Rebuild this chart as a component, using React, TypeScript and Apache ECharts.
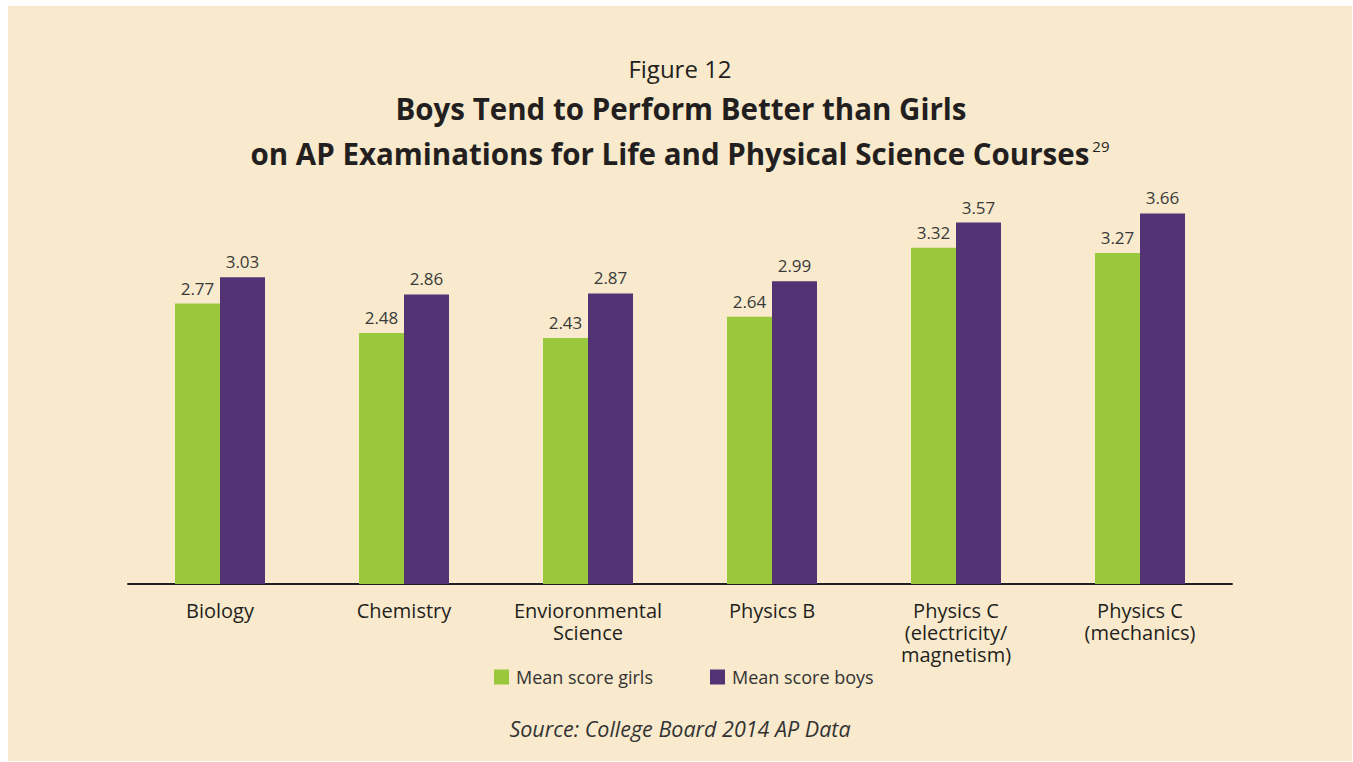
import React, { useEffect, useRef } from "react";
import * as echarts from "echarts";

const categories = [
  "Biology",
  "Chemistry",
  "Envioronmental\nScience",
  "Physics B",
  "Physics C\n(electricity/\nmagnetism)",
  "Physics C\n(mechanics)",
];
const girls = [2.77, 2.48, 2.43, 2.64, 3.32, 3.27];
const boys = [3.03, 2.86, 2.87, 2.99, 3.57, 3.66];
const seriesNames = ["Mean score girls", "Mean score boys"];

const FONT = "'Open Sans', 'Noto Sans', sans-serif";
const GREEN = "#99c83c";
const PURPLE = "#533373";
const TEXT = "#231f20";
const BG = "#f9eacd";

export default function App() {
  const ref = useRef<HTMLDivElement>(null);
  useEffect(() => {
    if (!ref.current) return;
    const chart = echarts.init(ref.current, null, { renderer: "svg" });
    const label = {
      show: true,
      position: "top",
      distance: 7,
      fontFamily: FONT,
      fontSize: 17,
      color: "#3a3a3a",
      formatter: (p: any) => Number(p.value).toFixed(2),
    };
    chart.setOption({
      animation: false,
      backgroundColor: "transparent",
      textStyle: { fontFamily: FONT },
      grid: { left: 128, right: 121, top: 179, bottom: 178 },
      xAxis: {
        type: "category",
        data: categories,
        axisLine: { lineStyle: { color: TEXT, width: 2 } },
        axisTick: { show: false },
        axisLabel: {
          fontFamily: FONT,
          fontSize: 20,
          lineHeight: 22,
          color: TEXT,
          margin: 15,
          interval: 0,
        },
      },
      yAxis: {
        type: "value",
        min: 0,
        max: 4,
        show: false,
        splitLine: { show: false },
      },
      legend: {
        left: 489,
        top: 663,
        icon: "rect",
        itemWidth: 15,
        itemHeight: 15,
        itemGap: 57,
        textStyle: { fontFamily: FONT, fontSize: 18, color: "#333", padding: [0, 0, 0, 2] },
        data: seriesNames,
      },
      series: [
        {
          name: seriesNames[0],
          type: "bar",
          data: girls,
          barWidth: 45,
          barGap: "0%",
          itemStyle: { color: GREEN },
          label,
        },
        {
          name: seriesNames[1],
          type: "bar",
          data: boys,
          barWidth: 45,
          barGap: "0%",
          itemStyle: { color: PURPLE },
          label,
        },
      ],
      graphic: [
        {
          type: "text",
          x: 680,
          y: 68,
          style: {
            text: "Figure 12",
            fontFamily: FONT,
            fontSize: 24,
            fill: TEXT,
            textAlign: "center",
            textVerticalAlign: "middle",
          },
        },
        {
          type: "text",
          x: 681,
          y: 108,
          style: {
            text: "Boys Tend to Perform Better than Girls",
            fontFamily: FONT,
            fontSize: 29.5,
            fontWeight: "bold",
            fill: TEXT,
            textAlign: "center",
            textVerticalAlign: "middle",
          },
        },
        {
          type: "text",
          x: 680,
          y: 153,
          style: {
            text: "{m|on AP Examinations for Life and Physical Science Courses}{s|29}",
            fontFamily: FONT,
            textAlign: "center",
            textVerticalAlign: "middle",
            rich: {
              m: {
                fontFamily: FONT,
                fontSize: 29.5,
                fontWeight: "bold",
                fill: TEXT,
                color: TEXT,
              },
              s: {
                fontFamily: FONT,
                fontSize: 15,
                fill: TEXT,
                color: TEXT,
                verticalAlign: "top",
                padding: [0, 0, 12, 3],
              },
            },
          },
        },
        {
          type: "text",
          x: 680,
          y: 728,
          style: {
            text: "Source: College Board 2014 AP Data",
            fontFamily: FONT,
            fontSize: 21.5,
            fontStyle: "italic",
            fill: "#333",
            textAlign: "center",
            textVerticalAlign: "middle",
          },
        },
      ],
    });
    return () => chart.dispose();
  }, []);
  return (
    <div style={{ position: "absolute", left: 0, top: 0, width: 1353, height: 762, background: "#fff" }}>
      <div style={{ position: "absolute", left: 8, top: 6, width: 1344, height: 755, background: BG }} />
      <div ref={ref} style={{ position: "absolute", left: 0, top: 0, width: 1353, height: 762 }} />
    </div>
  );
}
